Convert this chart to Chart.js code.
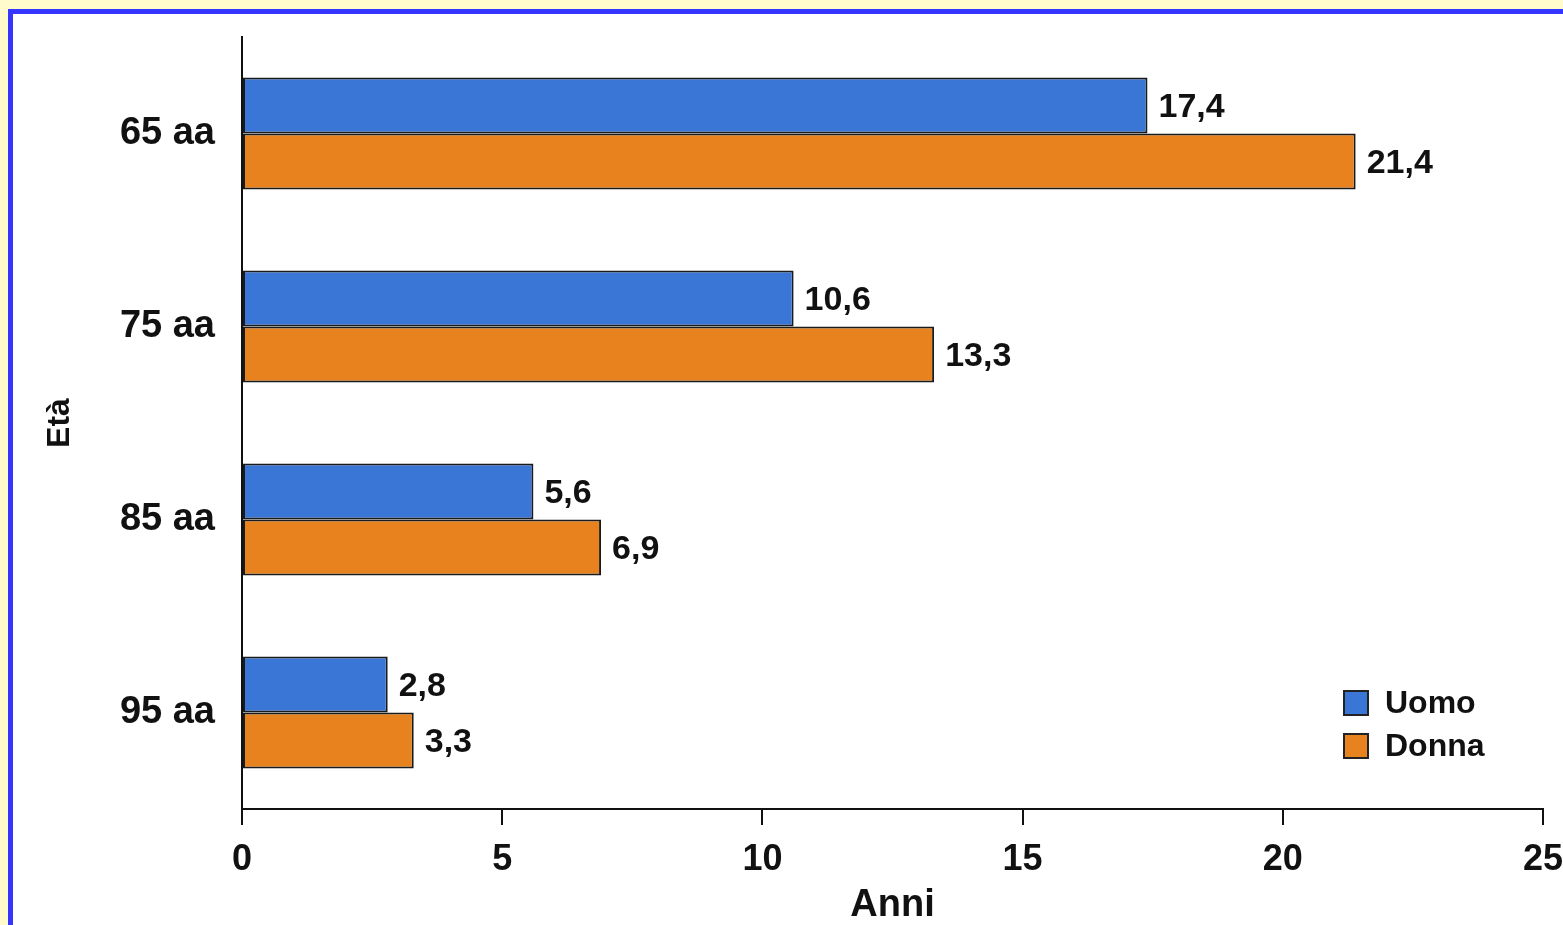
<!DOCTYPE html>
<html>
<head>
<meta charset="utf-8">
<script src="https://cdn.jsdelivr.net/npm/chart.js@4/dist/chart.umd.min.js"></script>
<style>
  html, body { margin: 0; padding: 0; background: #fffbcc; overflow: hidden; }
  #panel {
    position: absolute; left: 8px; top: 9px; width: 1600px; height: 1000px;
    background: #fff; border-left: 5px solid #3535ff; border-top: 5px solid #3535ff;
  }
  #wrap { position: absolute; left: 0; top: 0; width: 1563px; height: 925px; }
</style>
</head>
<body>
<div id="panel"></div>
<div id="wrap"><canvas id="chart" width="1563" height="925"></canvas></div>
<script>
// dati: aspettativa di vita residua per età
const eta = ['65 aa', '75 aa', '85 aa', '95 aa'];
const uomo = [17.4, 10.6, 5.6, 2.8];
const donna = [21.4, 13.3, 6.9, 3.3];
const serie = ['Uomo', 'Donna'];
const colori = ['#3a76d6', '#e8821e'];

const FONT = '"Liberation Sans", Arial, sans-serif';
const fmt = v => v.toFixed(1).replace('.', ',');

// etichette dei valori a destra delle barre
const valueLabels = {
  id: 'valueLabels',
  afterDatasetsDraw(chart) {
    const ctx = chart.ctx;
    ctx.save();
    ctx.font = 'bold 34px ' + FONT;
    ctx.fillStyle = '#111';
    ctx.textBaseline = 'middle';
    ctx.textAlign = 'left';
    chart.data.datasets.forEach((ds, i) => {
      chart.getDatasetMeta(i).data.forEach((bar, j) => {
        ctx.fillText(fmt(ds.data[j]), bar.x + 11, bar.y + 2);
      });
    });
    ctx.restore();
  }
};

// legenda in basso a destra
const boxLegend = {
  id: 'boxLegend',
  afterDraw(chart) {
    const ctx = chart.ctx;
    const x = chart.chartArea.right - 199;
    const y0 = chart.chartArea.bottom - 106;
    ctx.save();
    ctx.font = 'bold 32px ' + FONT;
    ctx.textBaseline = 'middle';
    chart.data.datasets.forEach((ds, i) => {
      const y = y0 + i * 43;
      ctx.fillStyle = ds.backgroundColor;
      ctx.fillRect(x, y - 12, 24, 24);
      ctx.lineWidth = 2;
      ctx.strokeStyle = '#222';
      ctx.strokeRect(x, y - 12, 24, 24);
      ctx.fillStyle = '#111';
      ctx.fillText(ds.label, x + 41, y + 1);
    });
    ctx.restore();
  }
};

new Chart(document.getElementById('chart'), {
  type: 'bar',
  data: {
    labels: eta,
    datasets: [
      { label: serie[0], data: uomo, backgroundColor: colori[0] },
      { label: serie[1], data: donna, backgroundColor: colori[1] }
    ]
  },
  options: {
    indexAxis: 'y',
    responsive: false,
    animation: false,
    layout: { padding: { top: 37, right: 20, left: 0, bottom: 0 } },
    datasets: {
      bar: {
        categoryPercentage: 0.58,
        barPercentage: 1,
        borderWidth: 2,
        borderColor: '#1a1a1a',
        borderSkipped: false
      }
    },
    plugins: {
      legend: { display: false },
      tooltip: { enabled: false }
    },
    scales: {
      x: {
        min: 0,
        max: 25,
        ticks: { stepSize: 5, padding: 13, color: '#111', font: { family: FONT, size: 36, weight: 'bold' } },
        grid: { drawOnChartArea: false, drawTicks: true, tickLength: 16, color: '#111', lineWidth: 2 },
        border: { display: true, color: '#111', width: 2 },
        title: { display: true, text: 'Anni', color: '#111', padding: 0,
          font: { family: FONT, size: 38, weight: 'bold', lineHeight: 1 } },
        afterFit(scale) { scale.height = 116; scale.paddingLeft = 0; scale.paddingRight = 0; }
      },
      y: {
        ticks: { padding: 27, color: '#111', font: { family: FONT, size: 38, weight: 'bold' } },
        grid: { drawOnChartArea: false, drawTicks: false },
        border: { display: true, color: '#111', width: 2 },
        title: { display: true, text: 'Età', color: '#111', padding: { top: 41, bottom: 0 },
          font: { family: FONT, size: 32, weight: 'bold' } },
        afterFit(scale) { scale.width = 242; scale.paddingTop = 0; scale.paddingBottom = 0; }
      }
    }
  },
  plugins: [valueLabels, boxLegend]
});
</script>
</body>
</html>
